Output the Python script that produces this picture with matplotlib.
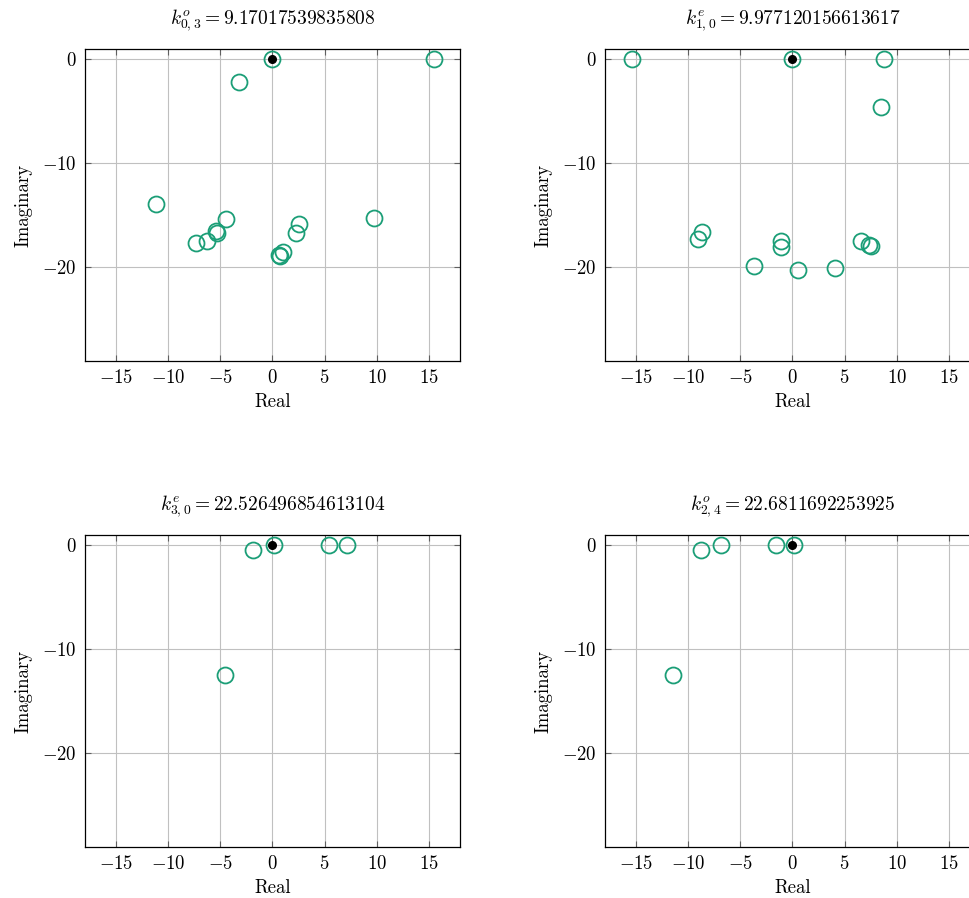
import matplotlib
matplotlib.use("Agg")
import matplotlib.pyplot as plt

plt.rcParams["font.family"] = "serif"
plt.rcParams["font.serif"] = ["cmr10"]
plt.rcParams["mathtext.fontset"] = "cm"
plt.rcParams["axes.formatter.use_mathtext"] = True
plt.rcParams["font.size"] = 13.5

# panel titles
titles = [
    r"$k^o_{0,3} = 9.17017539835808$",
    r"$k^e_{1,0} = 9.977120156613617$",
    r"$k^e_{3,0} = 22.526496854613104$",
    r"$k^o_{2,4} = 22.6811692253925$",
]

# eigenvalues (real, imaginary) per panel
real_1 = [0.0, 15.53, -3.2, -11.2, -4.42, -5.4, -5.3, -6.27, -7.33, 2.5, 2.27, 1.02, 0.61, 0.74, 9.7]
imag_1 = [0.0, 0.0, -2.18, -13.86, -15.33, -16.5, -16.7, -17.47, -17.7, -15.8, -16.7, -18.5, -18.85, -18.93, -15.26]

real_2 = [-15.4, 0.0, 8.8, 8.5, -8.67, -9.09, -1.06, -1.09, 0.54, -3.68, 4.1, 6.56, 7.39, 7.55]
imag_2 = [0.0, 0.0, 0.0, -4.57, -16.6, -17.25, -17.44, -18.0, -20.26, -19.87, -20.1, -17.5, -17.8, -17.96]

real_3 = [0.12, -1.89, 5.44, 7.14, -4.55]
imag_3 = [0.0, -0.45, 0.0, 0.0, -12.43]

real_4 = [0.12, -1.54, -6.82, -8.83, -11.5]
imag_4 = [0.0, 0.0, 0.0, -0.45, -12.43]

# reference point (black dot) in each panel
ref_real = [0.0, 0.0, 0.0, 0.0]
ref_imag = [0.0, 0.0, 0.0, 0.0]

panels = [(real_1, imag_1), (real_2, imag_2), (real_3, imag_3), (real_4, imag_4)]

W, H = 970, 898
fig = plt.figure(figsize=(W / 100, H / 100), dpi=100)

# axes boxes in pixels: left, top
boxes = [(85, 49), (605, 49), (85, 535), (605, 535)]
aw, ah = 375, 312

green = "#1b9e77"

for i, (re, im) in enumerate(panels):
    left, top = boxes[i]
    ax = fig.add_axes([left / W, (H - top - ah) / H, aw / W, ah / H])
    ax.plot(re, im, "o", ms=11.5, mfc="none", mec=green, mew=1.3, zorder=3)
    ax.plot(ref_real[i], ref_imag[i], "o", ms=5.5, color="black", zorder=4)
    ax.set_xlim(-18, 18)
    ax.set_ylim(-29, 1)
    ax.set_xticks([-15, -10, -5, 0, 5, 10, 15])
    ax.set_yticks([0, -10, -20])
    ax.grid(True, color="#c0c0c0", linewidth=0.8)
    ax.set_axisbelow(True)
    ax.tick_params(direction="in", top=True, right=True, length=4, width=0.8, color="#606060", pad=6)
    for s in ax.spines.values():
        s.set_linewidth(0.9)
    ax.set_title(titles[i], pad=18, fontsize=14)
    ax.set_xlabel("Real", labelpad=4)
    ax.set_ylabel("Imaginary", labelpad=7)

fig.savefig("out.png", dpi=100)
